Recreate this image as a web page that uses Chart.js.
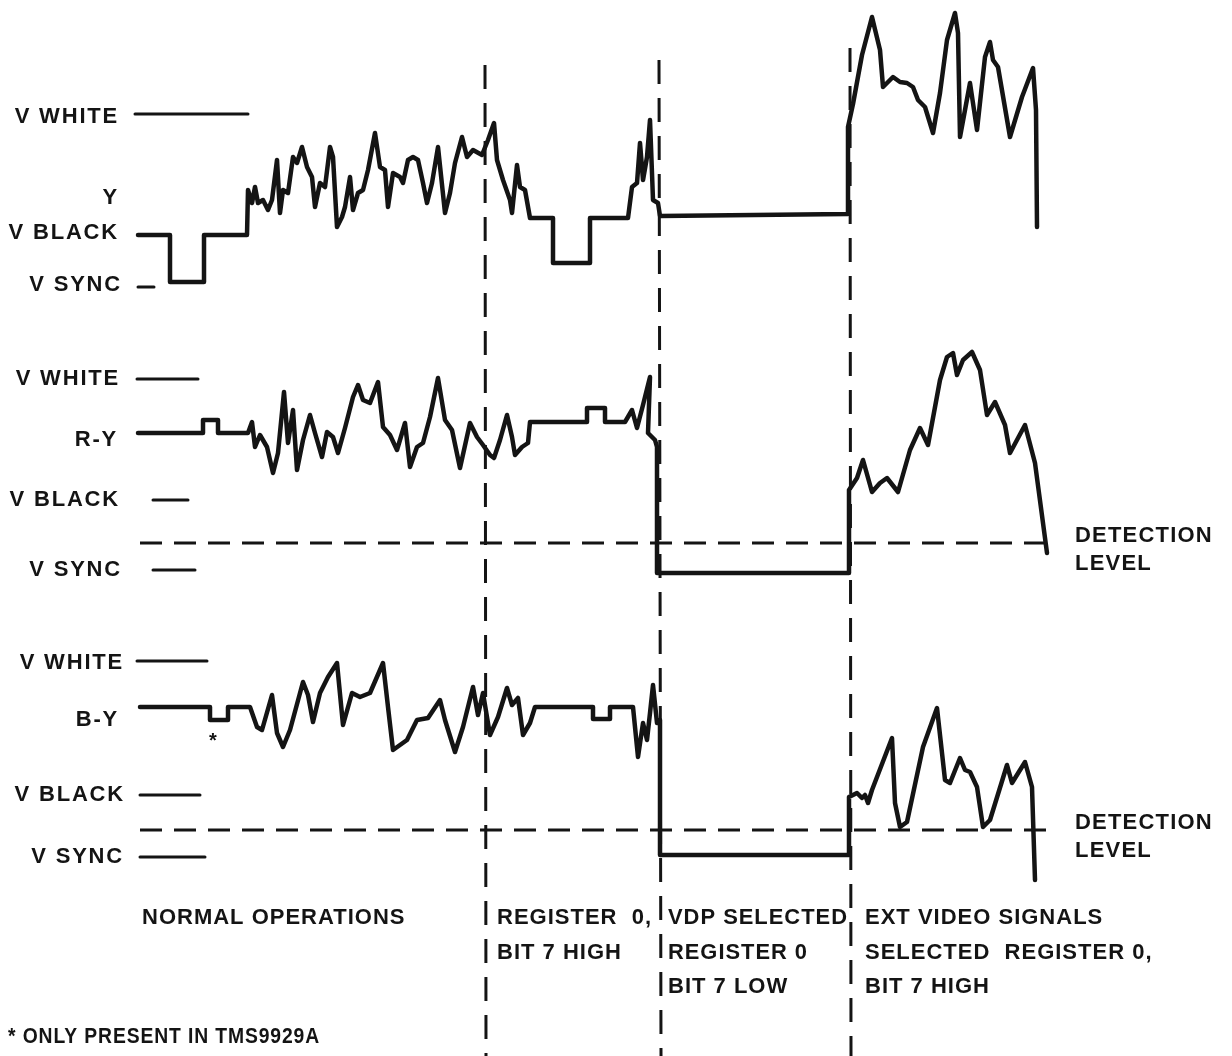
<!DOCTYPE html>
<html>
<head>
<meta charset="utf-8">
<script src="https://cdn.jsdelivr.net/npm/chart.js@4.4.1/dist/chart.umd.min.js"></script>
<style>
  html, body { margin: 0; padding: 0; background: #fff; }
  #wrap { width: 1232px; height: 1056px; position: relative; }
</style>
</head>
<body>
<div id="wrap"><canvas id="diagram"></canvas></div>
<script>
// waveforms as [time, level] (level axis runs downward like the drawing)
var yWave = [[138,235],[170,235],[170,282],[204,282],[204,235],[247,235],[248,190],[252,203],[255,187],[258,203],[263,200],[268,210],[272,200],[277,160],[280,213],[283,190],[288,193],[293,157],[297,163],[302,147],[307,167],[312,177],[315,207],[320,183],[325,187],[330,147],[333,157],[337,227],[342,217],[345,207],[350,177],[353,210],[358,193],[363,190],[368,170],[375,133],[380,167],[385,170],[388,207],[393,173],[400,177],[403,183],[408,160],[413,157],[418,160],[423,183],[427,203],[432,183],[438,147],[445,213],[450,193],[455,163],[462,137],[467,157],[473,150],[482,155],[488,140],[494,123],[497,160],[503,180],[510,200],[512,213],[517,165],[520,187],[525,190],[530,218],[553,218],[553,263],[590,263],[590,218],[628,218],[632,187],[637,183],[640,143],[643,180],[647,157],[650,120],[653,200],[658,203],[660,216],[848,214],[848,127],[853,104],[862,55],[872,17],[880,50],[883,87],[893,77],[900,82],[907,83],[913,87],[918,100],[925,107],[933,133],[940,93],[947,40],[955,13],[958,33],[960,137],[970,83],[977,130],[985,57],[990,42],[993,60],[998,67],[1010,137],[1022,97],[1033,68],[1036,110],[1037,227]];

var ryWave = [[138,433],[203,433],[203,420],[218,420],[218,433],[248,433],[252,422],[255,447],[260,435],[267,447],[273,473],[278,453],[284,392],[288,443],[293,410],[297,470],[303,440],[310,415],[315,433],[322,457],[327,432],[333,437],[338,453],[345,428],[353,397],[358,385],[363,400],[370,403],[378,382],[383,427],[390,435],[397,450],[405,423],[410,467],[417,447],[423,443],[430,417],[438,378],[445,420],[452,430],[460,468],[470,423],[477,437],[483,445],[490,455],[494,458],[500,440],[507,415],[512,437],[515,455],[522,447],[528,443],[530,422],[587,422],[587,408],[605,408],[605,422],[625,422],[632,410],[637,428],[643,405],[650,377],[648,433],[655,440],[657,447],[657,573],[849,573],[849,490],[857,478],[863,460],[872,492],[880,483],[887,478],[898,492],[910,450],[920,428],[928,445],[940,380],[947,357],[953,353],[957,375],[963,360],[972,352],[980,370],[987,415],[995,402],[1005,425],[1010,453],[1025,425],[1035,463],[1047,553]];

var byWave = [[140,707],[210,707],[210,720],[228,720],[228,707],[250,707],[257,727],[262,730],[272,695],[277,733],[283,747],[290,730],[303,682],[308,695],[313,722],[320,693],[328,677],[337,663],[343,725],[352,693],[360,697],[370,693],[383,663],[388,707],[393,750],[407,740],[417,720],[428,718],[440,700],[445,720],[455,752],[463,727],[473,687],[478,715],[483,693],[490,735],[498,717],[507,688],[512,705],[518,698],[523,735],[530,723],[535,707],[593,707],[593,719],[610,719],[610,707],[633,707],[638,757],[643,723],[647,740],[650,713],[653,685],[657,723],[660,720],[660,855],[849,855],[849,797],[857,793],[862,798],[865,795],[868,803],[872,790],[892,738],[895,803],[900,827],[907,822],[923,747],[937,708],[945,780],[950,783],[960,758],[965,770],[970,772],[977,787],[983,827],[990,820],[1007,765],[1012,783],[1025,762],[1032,787],[1035,880]];

// reference level marks: [start, end, level]
var levelMarks = [[135,248,114],[138,154,287],[137,198,379],[153,188,500],[153,195,570],[137,207,661],[140,200,795],[140,205,857]];

// detection thresholds for R-Y and B-Y
var detectionLevels = [543, 830];

// boundaries between operating modes: [x top, y top, x bottom]
var modeBounds = [[485,65,486],[659,60,661],[850,48,851]];

var levelText = [
  ['V WHITE', 'Y', 'V BLACK', 'V SYNC'],
  ['V WHITE', 'R-Y', 'V BLACK', 'V SYNC'],
  ['V WHITE', 'B-Y', 'V BLACK', 'V SYNC']
];
var modeText = [
  ['NORMAL OPERATIONS'],
  ['REGISTER  0,', 'BIT 7 HIGH'],
  ['VDP SELECTED', 'REGISTER 0', 'BIT 7 LOW'],
  ['EXT VIDEO SIGNALS', 'SELECTED  REGISTER 0,', 'BIT 7 HIGH']
];
var detectionText = ['DETECTION', 'LEVEL'];
var noteText = '* ONLY PRESENT IN TMS9929A';

var ink = '#141414';

function trace(points, width, dash) {
    return {
        data: points.map(function (p) { return { x: p[0], y: p[1] }; }),
        borderColor: ink,
        borderWidth: width,
        borderDash: dash || [],
        borderJoinStyle: 'round',
        borderCapStyle: dash ? 'butt' : 'round',
        pointRadius: 0,
        tension: 0,
        fill: false
    };
}

var datasets = [trace(yWave, 4.5), trace(ryWave, 4.5), trace(byWave, 4.5)];

for (m of levelMarks) {
    datasets.push(trace([[m[0], m[2]], [m[1], m[2]]], 3));
}
for (d of detectionLevels) {
    datasets.push(trace([[140, d], [1048, d]], 3, [22, 12]));
}
for (b of modeBounds) {
    datasets.push(trace([[b[0], b[1]], [b[2], 1056]], 3, [24, 14]));
}

// level names, mode captions and notes drawn on top of the traces
const sheetText = {
    id: 'sheetText',
    afterDatasetsDraw: function (chart) {
        const ctx = chart.ctx;
        const sx = chart.scales.x, sy = chart.scales.y;
        const put = function (txt, x, y, align, maxW) {
            ctx.textAlign = align;
            if (maxW) ctx.fillText(txt, sx.getPixelForValue(x), sy.getPixelForValue(y), maxW);
            else ctx.fillText(txt, sx.getPixelForValue(x), sy.getPixelForValue(y));
        };
        ctx.save();
        ctx.fillStyle = ink;
        ctx.textBaseline = 'middle';
        ctx.font = 'bold 22px "Liberation Sans", Arial, sans-serif';
        ctx.letterSpacing = '1.8px';

        const rows = [[117, 198, 233, 285], [379, 440, 500, 570], [663, 720, 795, 857]];
        const rights = [[119, 119, 119, 122], [120, 118, 120, 122], [124, 119, 125, 124]];
        for (let g = 0; g < 3; g++) {
            for (let i = 0; i < 4; i++) {
                put(levelText[g][i], rights[g][i], rows[g][i], 'right');
            }
        }

        ctx.letterSpacing = '1.2px';
        put(detectionText[0], 1075, 536, 'left', 144);
        put(detectionText[1], 1075, 564, 'left', 82);
        put(detectionText[0], 1075, 823, 'left', 144);
        put(detectionText[1], 1075, 851, 'left', 82);

        ctx.font = 'bold 22px "Liberation Sans", Arial, sans-serif';
        ctx.letterSpacing = '1px';
        const capX = [142, 497, 668, 865];
        const capW = [[279], [158, 131], [180, 140, 122], [250, 290, 132]];
        const capY = [918, 953, 987];
        for (let c = 0; c < modeText.length; c++) {
            for (let r = 0; r < modeText[c].length; r++) {
                put(modeText[c][r], capX[c], capY[r], 'left', capW[c][r]);
            }
        }

        put(noteText, 8, 1037, 'left', 312);

        ctx.font = 'bold 20px "Liberation Sans", Arial, sans-serif';
        ctx.letterSpacing = '0px';
        put('*', 213, 741, 'center');
        ctx.restore();
    }
};

new Chart(document.getElementById('diagram').getContext('2d'), {
    type: 'line',
    data: { datasets: datasets },
    plugins: [sheetText],
    options: {
        responsive: true,
        maintainAspectRatio: false,
        animation: false,
        layout: { padding: 0 },
        plugins: {
            legend: { display: false },
            tooltip: { enabled: false }
        },
        scales: {
            x: { type: 'linear', min: 0, max: 1232, display: false },
            y: { type: 'linear', min: 0, max: 1056, reverse: true, display: false }
        }
    }
});
</script>
</body>
</html>
